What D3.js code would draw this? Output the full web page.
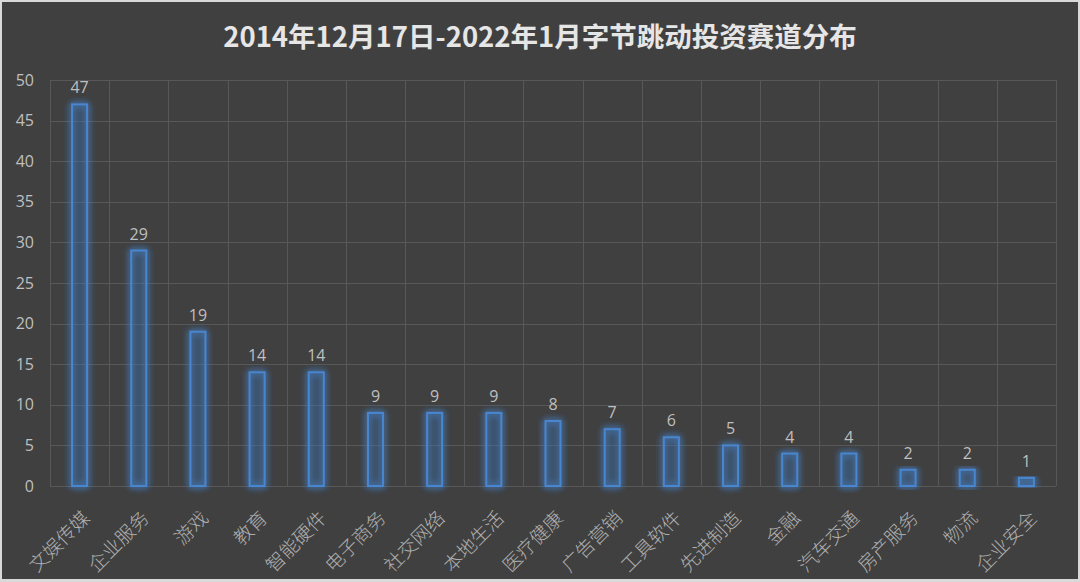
<!DOCTYPE html>
<html>
<head>
<meta charset="utf-8">
<script src="https://cdn.jsdelivr.net/npm/d3@7/dist/d3.min.js"></script>
<style>
  html, body { margin: 0; padding: 0; background: #d9d9d9; }
  svg { display: block; }
</style>
</head>
<body>
<svg id="chart"></svg>
<script>
const categories = ['文娱传媒', '企业服务', '游戏', '教育', '智能硬件', '电子商务', '社交网络', '本地生活', '医疗健康', '广告营销', '工具软件', '先进制造', '金融', '汽车交通', '房产服务', '物流', '企业安全'];
const counts = [47, 29, 19, 14, 14, 9, 9, 9, 8, 7, 6, 5, 4, 4, 2, 2, 1];
const yTicks = [0, 5, 10, 15, 20, 25, 30, 35, 40, 45, 50];
const title = '2014年12月17日-2022年1月字节跳动投资赛道分布';

const width = 1080, height = 582;
const margin = {top: 80, right: 24, bottom: 96, left: 50};

const svg = d3.select('#chart')
    .attr('width', width)
    .attr('height', height)
    .style('font-family', '"Noto Sans CJK SC", "Noto Sans", sans-serif');

// frame + dark background
svg.append('rect')
    .attr('x', 2).attr('y', 2)
    .attr('width', width - 4).attr('height', height - 5)
    .attr('fill', '#404040');

const defs = svg.append('defs');
const glow = defs.append('filter')
    .attr('id', 'glow')
    .attr('x', '-100%').attr('y', '-20%')
    .attr('width', '300%').attr('height', '140%');
glow.append('feGaussianBlur')
    .attr('in', 'SourceGraphic')
    .attr('stdDeviation', 3.5)
    .attr('result', 'blur');
const merge = glow.append('feMerge');
merge.append('feMergeNode').attr('in', 'blur');
merge.append('feMergeNode').attr('in', 'blur');
merge.append('feMergeNode').attr('in', 'SourceGraphic');

const x = d3.scaleBand()
    .domain(categories)
    .range([margin.left, width - margin.right])
    .paddingInner(0)
    .paddingOuter(0);

const y = d3.scaleLinear()
    .domain([0, 50])
    .range([height - margin.bottom, margin.top]);

// horizontal grid
svg.append('g')
    .selectAll('line')
    .data(yTicks)
    .join('line')
        .attr('x1', margin.left)
        .attr('x2', width - margin.right)
        .attr('y1', d => Math.round(y(d)) + 0.5)
        .attr('y2', d => Math.round(y(d)) + 0.5)
        .attr('stroke', '#585858')
        .attr('stroke-width', 1);

// vertical grid
const vLines = categories.map(c => x(c)).concat([x.range()[1]]);
svg.append('g')
    .selectAll('line')
    .data(vLines)
    .join('line')
        .attr('x1', d => Math.round(d) + 0.5)
        .attr('x2', d => Math.round(d) + 0.5)
        .attr('y1', y(50))
        .attr('y2', y(0))
        .attr('stroke', '#585858')
        .attr('stroke-width', 1);

// y axis labels
const yAxis = d3.axisLeft(y).tickValues(yTicks).tickSize(0).tickPadding(16);
const yg = svg.append('g')
    .attr('transform', `translate(${margin.left},0)`)
    .call(yAxis);
yg.select('.domain').remove();
yg.selectAll('text')
    .attr('fill', '#bfbfbf')
    .style('font-size', '16px')
    .style('font-family', '"Open Sans", "Noto Sans", sans-serif');

// bars
const barW = 15;
svg.append('g')
    .selectAll('rect')
    .data(counts)
    .join('rect')
        .attr('x', (d, i) => x(categories[i]) + x.bandwidth() / 2 - barW / 2)
        .attr('y', d => y(d))
        .attr('width', barW)
        .attr('height', d => y(0) - y(d))
        .attr('fill', 'rgba(60,110,170,0.12)')
        .attr('stroke', '#4a86d0')
        .attr('stroke-width', 2)
        .attr('filter', 'url(#glow)');

// value labels
svg.append('g')
    .selectAll('text')
    .data(counts)
    .join('text')
        .attr('x', (d, i) => x(categories[i]) + x.bandwidth() / 2)
        .attr('y', d => y(d) - 11)
        .attr('text-anchor', 'middle')
        .attr('fill', '#bfbfbf')
        .style('font-size', '16px')
        .style('font-family', '"Open Sans", "Noto Sans", sans-serif')
        .text(d => d);

// category labels
svg.append('g')
    .selectAll('text')
    .data(categories)
    .join('text')
        .attr('transform', d => `translate(${x(d) + x.bandwidth() / 2 + 2},${y(0) + 24}) rotate(-45)`)
        .attr('text-anchor', 'end')
        .attr('dy', '0.7em')
        .attr('fill', '#b0b0b0')
        .style('font-size', '19px')
        .style('font-weight', '300')
        .text(d => d);

// title
svg.append('text')
    .attr('x', width / 2)
    .attr('y', 47)
    .attr('text-anchor', 'middle')
    .attr('fill', '#e6e6e6')
    .style('font-size', '27.5px')
    .style('font-weight', 'bold')
    .text(title);
</script>
</body>
</html>
